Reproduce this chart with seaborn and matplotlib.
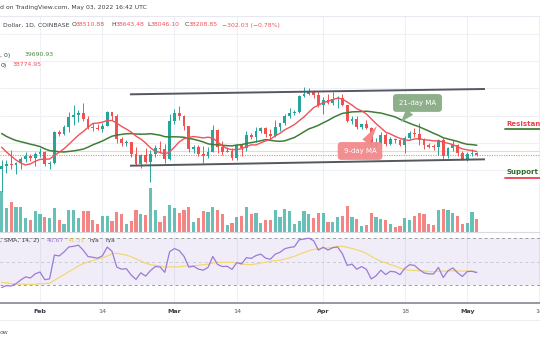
import numpy as np
import pandas as pd
import matplotlib
matplotlib.use("Agg")
import matplotlib.pyplot as plt
from matplotlib.transforms import blended_transform_factory
import seaborn as sns

# ---------------- data: BTC/USD daily, Coinbase ----------------
dates = pd.date_range("2022-01-24", "2022-05-03", freq="D")

opens = [36276, 36654, 36955, 36825, 37160, 37716, 38166, 37881, 38480, 38743,
         36945, 37066, 41570, 41380, 42410, 43840, 44040, 44380, 43550, 42380,
         42240, 42070, 42560, 44590, 43900, 40560, 40010, 40110, 38390, 37020,
         38280, 37260, 38350, 39230, 39140, 37720, 43190, 44420, 43920, 42460,
         39150, 39400, 38420, 38060, 38740, 41950, 39440, 38730, 38810, 37800,
         39670, 39280, 41120, 40920, 41770, 42200, 41260, 41000, 42370, 42890,
         43960, 44330, 44540, 46850, 47130, 47460, 47070, 45530, 46300, 45820,
         46430, 46620, 45530, 43190, 43450, 42290, 42780, 42160, 39530, 40080,
         41150, 39940, 40550, 40390, 39680, 40800, 41500, 41370, 40480, 39710,
         39470, 39450, 40430, 38110, 39240, 39740, 38600, 37640, 38470, 38510.88]
highs = [37550, 37540, 38920, 37230, 38000, 38720, 38360, 38740, 39270, 38850,
         37380, 41750, 41940, 42660, 44500, 45500, 44800, 45850, 43920, 43000,
         42740, 42870, 44750, 44590, 44200, 40960, 40460, 40170, 39470, 38430,
         39280, 39000, 39700, 40300, 39860, 44250, 44950, 45400, 44100, 42520,
         39650, 39660, 39550, 39380, 42580, 42050, 40250, 39480, 39300, 39940,
         39860, 41720, 41470, 42300, 42390, 42300, 42050, 43360, 42900, 44180,
         45090, 44780, 46950, 48190, 48100, 47700, 47600, 46700, 47200, 47440,
         46900, 47100, 45530, 43900, 43960, 42800, 43420, 42420, 40700, 41560,
         41500, 40860, 40700, 40600, 41100, 41770, 42200, 42980, 40800, 39990,
         39940, 40620, 40800, 39450, 40380, 39920, 38800, 38680, 39150, 38643.48]
lows = [32917, 35700, 36240, 35510, 36170, 37300, 37350, 36630, 38000, 36630,
        36250, 36990, 40980, 41130, 41650, 42670, 43140, 43190, 42000, 41750,
        41890, 41570, 42450, 43350, 40080, 39520, 39640, 38030, 36830, 36400,
        37050, 34320, 38030, 38600, 37030, 37460, 42850, 43360, 41850, 38650,
        38600, 38100, 37160, 37880, 38670, 38550, 38230, 38680, 37580, 37590,
        38120, 38830, 40530, 40140, 41510, 40930, 40500, 40890, 41750, 42580,
        43600, 44050, 44420, 46680, 46960, 46600, 45220, 44200, 45640, 45540,
        45140, 45390, 43140, 42750, 42120, 42130, 42000, 39200, 39250, 39570,
        39550, 39770, 40010, 39550, 38540, 40570, 40820, 39750, 39180, 39300,
        38940, 38200, 37700, 37870, 38870, 38180, 37600, 37400, 38050, 38046.10]
closes = [36654, 36955, 36825, 37160, 37716, 38166, 37881, 38480, 38743, 36945,
          37066, 41570, 41380, 42410, 43840, 44040, 44380, 43550, 42380, 42240,
          42070, 42560, 44590, 43900, 40560, 40010, 40110, 38390, 37020, 38280,
          37260, 38350, 39230, 39140, 37720, 43190, 44420, 43920, 42460, 39150,
          39400, 38420, 38060, 38740, 41950, 39440, 38730, 38810, 37800, 39670,
          39280, 41120, 40920, 41770, 42200, 41260, 41000, 42370, 42890, 43960,
          44330, 44540, 46850, 47130, 47460, 47070, 45530, 46300, 45820, 46430,
          46620, 45530, 43190, 43450, 42290, 42780, 42160, 39530, 40080, 41150,
          39940, 40550, 40390, 39680, 40800, 41500, 41370, 40480, 39710, 39470,
          39450, 40430, 38110, 39240, 39740, 38600, 37640, 38470, 38510.88, 38208.85]
volumes = [41000, 24000, 30000, 25000, 25000, 14000, 12000, 21000, 18000, 15000,
           14000, 24000, 12000, 8000, 22000, 22000, 14000, 21000, 21000, 12000,
           8000, 16000, 16000, 11000, 20000, 18000, 8000, 11000, 22000, 18000,
           17000, 44000, 22000, 10000, 16000, 27000, 24000, 19000, 22000, 25000,
           10000, 14000, 21000, 20000, 25000, 22000, 18000, 7000, 9000, 15000,
           16000, 25000, 18000, 19000, 9000, 12000, 12000, 22000, 15000, 23000,
           21000, 8000, 11000, 21000, 18000, 14000, 19000, 19000, 10000, 10000,
           15000, 16000, 26000, 15000, 13000, 6000, 7000, 19000, 15000, 13000,
           12000, 8000, 5000, 6000, 14000, 12000, 16000, 19000, 18000, 8000,
           7000, 22000, 23000, 22000, 19000, 16000, 8000, 9000, 20000, 13000]
# closes from 1 Dec 2021 to 23 Jan 2022, warm-up for the moving averages and RSI
earlier_closes = [57230, 56510, 53730, 49250, 49400, 50580, 50540, 50470, 47550, 47140,
                  49390, 50090, 46710, 48370, 48880, 47640, 46160, 46860, 46680, 46910,
                  48910, 48600, 50820, 50830, 50430, 50800, 50700, 47540, 46470, 47120,
                  46210, 47740, 47300, 46430, 45830, 43430, 43080, 41560, 41730, 41870,
                  41830, 42740, 43920, 42590, 43100, 43180, 43110, 42250, 42380, 41680,
                  40700, 36460, 35080, 36280]

tick_dates = ["2022-02-01", "2022-02-14", "2022-03-01", "2022-03-14",
              "2022-04-01", "2022-04-18", "2022-05-01", "2022-05-16"]
tick_labels = ["Feb", "14", "Mar", "14", "Apr", "18", "May", "16"]
price_grid = [36000, 40000, 44000, 48000, 52000, 56000]

# hand-drawn channel (day offset from 24 Jan, price)
channel_days = [26.75, 100.7]
channel_upper = [47120, 47900]
channel_lower = [36700, 37630]

# ---------------- indicators ----------------
n_early = len(earlier_closes)
all_close = pd.Series(earlier_closes + closes, dtype=float)
ma9 = all_close.rolling(9).mean().to_numpy()[n_early:]
ma21 = all_close.rolling(21).mean().to_numpy()[n_early:]

delta = all_close.diff().to_numpy()
gain = np.where(delta > 0, delta, 0.0)
loss = np.where(delta < 0, -delta, 0.0)
period = 14
avg_g = np.full(len(delta), np.nan)
avg_l = np.full(len(delta), np.nan)
avg_g[period] = gain[1:period + 1].mean()
avg_l[period] = loss[1:period + 1].mean()
for i in range(period + 1, len(delta)):
    avg_g[i] = (avg_g[i - 1] * (period - 1) + gain[i]) / period
    avg_l[i] = (avg_l[i - 1] * (period - 1) + loss[i]) / period
rsi_all = 100 - 100 / (1 + avg_g / avg_l)
rsi_sma_all = pd.Series(rsi_all).rolling(14).mean().to_numpy()
rsi = rsi_all[n_early:]
rsi_sma = rsi_sma_all[n_early:]

# ---------------- styling ----------------
sns.set_style("white")
plt.rcParams["font.family"] = ["DejaVu Sans"]

UP, DOWN = "#26A69A", "#EF5350"
GRID = "#EDF0F5"
TXT = "#3B3E46"

opens_a, highs_a, lows_a, closes_a = map(np.asarray, (opens, highs, lows, closes))
days = np.arange(len(dates))
is_up = closes_a >= opens_a
colors = np.where(is_up, UP, DOWN)

W, H = 540, 340
fig = plt.figure(figsize=(W / 100, H / 100), dpi=100)
fig.patch.set_facecolor("white")


def band(top, bottom):
    return [0, 1 - bottom / H, 1, (bottom - top) / H]


vol_ax = fig.add_axes(band(16, 232))
ax = vol_ax.twinx()
ax.set_zorder(vol_ax.get_zorder() + 1)
ax.patch.set_visible(False)
rsi_ax = fig.add_axes(band(232, 303), sharex=vol_ax)
time_ax = fig.add_axes(band(303, 320), sharex=vol_ax)

day_px = 4.8
x_lo, x_hi = -1.6 / day_px, (W - 1.6) / day_px
vol_ax.set_xlim(x_lo, x_hi)
ax.set_ylim(27020, 58556)
vol_ax.set_ylim(0, 216000)
rsi_ax.set_ylim(14.8, 75.4)

tick_pos = [(pd.Timestamp(t) - dates[0]).days for t in tick_dates]

# grid
for a in (vol_ax, rsi_ax):
    for t in tick_pos:
        a.axvline(t, color=GRID, lw=0.8, zorder=0)
grid_tr = blended_transform_factory(vol_ax.transAxes, ax.transData)
vol_ax.hlines(price_grid, 0, 1, transform=grid_tr, color=GRID, lw=0.8, zorder=0)

# volume
vol_ax.bar(days, volumes, width=0.7, color=colors, alpha=0.7, linewidth=0, zorder=1)

# reference lines across the price pane
ax.axhline(38850, color="#CFE8C8", lw=0.8, zorder=1)
ax.axhline(closes[-1], color="#F08A6C", lw=0.8, ls=(0, (1, 1.2)), zorder=1)

# candles
ax.vlines(days, lows_a, highs_a, colors=colors, lw=0.7, zorder=2)
body_lo = np.minimum(opens_a, closes_a)
body_h = np.maximum(np.abs(closes_a - opens_a), 90)
ax.bar(days, body_h, bottom=body_lo, width=0.62, color=colors, linewidth=0, zorder=3)

# moving averages
sns.lineplot(x=days, y=ma21, ax=ax, color="#3F7E36", lw=1.1, zorder=4)
sns.lineplot(x=days, y=ma9, ax=ax, color="#F0525A", lw=1.0, zorder=4)

# channel
ax.plot(channel_days, channel_upper, color="#555860", lw=1.4, solid_capstyle="butt", zorder=5)
ax.plot(channel_days, channel_lower, color="#555860", lw=1.4, solid_capstyle="butt", zorder=5)

# callouts
ax.annotate("21-day MA", xy=(83.2, 43080), xytext=(11.9, 13.7), textcoords="offset points",
            ha="center", va="center", color="white", fontsize=5, zorder=6,
            bbox=dict(boxstyle="round,pad=0.85,rounding_size=0.5", fc="#8DB08A", ec="none"),
            arrowprops=dict(arrowstyle="wedge,tail_width=1.3", fc="#8DB08A", ec="none",
                            shrinkA=0, shrinkB=0))
ax.annotate("9-day MA", xy=(78.2, 42500), xytext=(-12.2, -18.0), textcoords="offset points",
            ha="center", va="center", color="white", fontsize=5, zorder=6,
            bbox=dict(boxstyle="round,pad=0.85,rounding_size=0.5", fc="#F2898B", ec="none", alpha=0.95),
            arrowprops=dict(arrowstyle="wedge,tail_width=1.3", fc="#F2898B", ec="none",
                            shrinkA=0, shrinkB=0))

# support / resistance tags
ax.text(105.1, 42790, "Resistance", color="#E8434E", fontsize=5, fontweight="bold",
        va="center", ha="left", zorder=6, clip_on=False)
ax.plot([104.8, 113], [42060, 42060], color="#3F7E36", lw=1.3, zorder=6, clip_on=False)
ax.text(105.1, 35780, "Support", color="#2F6B2A", fontsize=5, fontweight="bold",
        va="center", ha="left", zorder=6, clip_on=False)
ax.plot([104.8, 113], [34900, 34900], color="#E8434E", lw=1.3, zorder=6, clip_on=False)

# RSI pane
rsi_ax.axhspan(30, 70, color="#7E57C2", alpha=0.1, lw=0, zorder=0)
rsi_ax.axhline(70, color="#9A9CA5", lw=0.7, ls=(0, (3, 3)), zorder=1)
rsi_ax.axhline(30, color="#9A9CA5", lw=0.7, ls=(0, (3, 3)), zorder=1)
rsi_ax.axhline(50, color="#C9CAD2", lw=0.7, ls=(0, (3, 3)), zorder=1)
sns.lineplot(x=days, y=rsi_sma, ax=rsi_ax, color="#F1D874", lw=0.9, zorder=2)
sns.lineplot(x=days, y=rsi, ax=rsi_ax, color="#9A7BD6", lw=0.9, zorder=3)

# axes cosmetics
for a in (vol_ax, ax, rsi_ax, time_ax):
    a.set_xticks([])
    a.set_yticks([])
    a.set_xlabel("")
    a.set_ylabel("")
    for s in a.spines.values():
        s.set_visible(False)
vol_ax.spines["top"].set_visible(True)
vol_ax.spines["top"].set_color("#E6E9EF")
vol_ax.spines["top"].set_linewidth(0.8)
rsi_ax.spines["top"].set_visible(True)
rsi_ax.spines["top"].set_color("#D6D9E0")
rsi_ax.spines["top"].set_linewidth(0.8)
time_ax.spines["top"].set_visible(True)
time_ax.spines["top"].set_color("#8E919A")
time_ax.spines["top"].set_linewidth(1.3)
time_ax.spines["bottom"].set_visible(True)
time_ax.spines["bottom"].set_color("#ECEEF2")
time_ax.spines["bottom"].set_linewidth(0.8)
time_ax.set_ylim(0, 1)
for t, lab in zip(tick_pos, tick_labels):
    bold = not lab.isdigit()
    time_ax.text(t, 0.5, lab, ha="center", va="center", fontsize=4.6,
                 color="#3A3D45" if bold else "#5B5E66",
                 fontweight="bold" if bold else "normal")


# legend / header texts
def ftext(x, y, s, color=TXT, size=4.4, **kw):
    fig.text(x / W, 1 - y / H, s, color=color, fontsize=size, va="center", ha="left", **kw)


ftext(0, 8, "d on TradingView.com, May 03, 2022 16:42 UTC")
ftext(3, 25, "Dollar, 1D, COINBASE")
red_txt = "#F0525A"
ftext(72, 25, "O")
ftext(76, 25, f"{opens[-1]:.2f}", color=red_txt)
ftext(111, 25, "H")
ftext(115.5, 25, f"{highs[-1]:.2f}", color=red_txt)
ftext(147.5, 25, "L")
ftext(151, 25, f"{lows[-1]:.2f}", color=red_txt)
ftext(184.5, 25, "C")
ftext(188.5, 25, f"{closes[-1]:.2f}", color=red_txt)
chg = closes[-1] - opens[-1]
ftext(222, 25, f"\u2212{abs(chg):.2f} (\u2212{abs(chg) / opens[-1] * 100:.2f}%)", color=red_txt)

ftext(0, 55, ", 0)")
ftext(25, 55, "39690.93", color="#4C8A40")
ftext(1, 65, "0)")
ftext(13, 65, "38774.95", color=red_txt)

ftext(0, 240.5, ", SMA, 14, 2)")
ftext(47, 240.5, "40.67", color="#9A7BD6")
ftext(68, 240.5, "41.51", color="#E8C94A")
ftext(90, 240.5, "n/a")
ftext(105, 240.5, "n/a")

ftext(0, 332, "ow", color="#5B5E66")

fig.savefig("out.png", dpi=100, facecolor="white")
